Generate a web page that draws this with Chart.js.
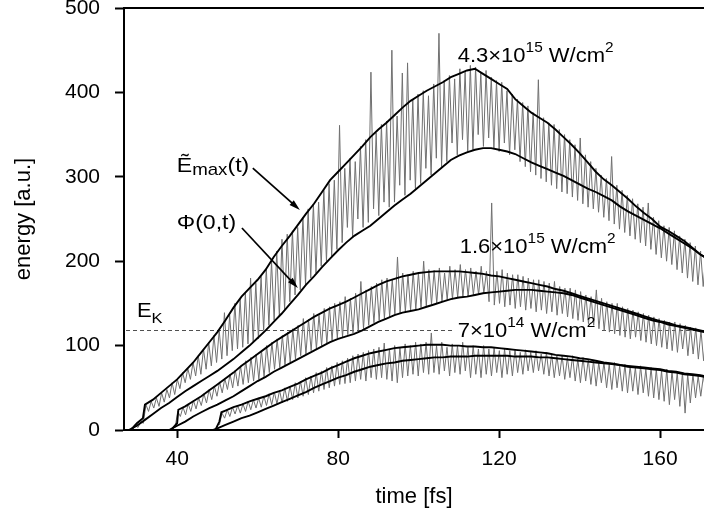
<!DOCTYPE html>
<html>
<head>
<meta charset="utf-8">
<script src="https://cdn.jsdelivr.net/npm/chart.js@4.4.1/dist/chart.umd.min.js"></script>
<style>
html,body{margin:0;padding:0;background:#fff;overflow:hidden;}
#wrap{width:704px;height:515px;}
canvas{display:block;}
</style>
</head>
<body>
<div id="wrap"><canvas id="chart" width="704" height="515"></canvas></div>
<script>
// ---------------- data ----------------
const xTicks = [40, 80, 120, 160];
const yTicks = [0, 100, 200, 300, 400, 500];
const eK = 118;

// 4.3e15 W/cm2 : upper (E~max) and lower (Phi(0,t)) curves
const u1T = [28.5,30,31.5,32,34,36,38,40,42,44,46,48,50,52,54,56,58,60,62,64,66,68,70,72,74,76,78,80,82,84,86,88,90,92,94,96,98,100,102,104,106,108,110,112,114,116,118,120,122,124,126,128,130,132,134,136,138,140,142,144,146,148,150,152,154,156,158,160,162,164,166,168,170,172];
const u1E = [0,8,14,30,36,44,52,60,70,80,92,104,116,130,145,158,168,178,190,205,218,230,243,256,268,282,296,306,316,326,336,347,356,364,373,382,390,396,402,407,412,418,422,426,428,422,416,410,404,392,384,376,370,364,356,347,338,328,317,306,297,290,282,274,265,257,250,241,236,230,224,216,208,202];
const l1T = [28,30,32,34,36,38,40,42,44,46,48,50,52,54,56,58,60,62,64,66,68,70,72,74,76,78,80,82,84,86,88,90,92,94,96,98,100,102,104,106,108,110,112,114,116,118,120,122,124,126,128,130,132,134,136,138,140,142,144,146,148,150,152,154,156,158,160,162,164,166,168,170,172];
const l1E = [0,5,12,19,26,32,39,46,52,58,64,70,77,84,92,100,109,118,128,138,149,160,172,182,193,203,213,222,230,236,242,250,258,266,273,280,288,296,304,312,320,325,329,332,334,334,332,330,327,322,317,313,309,305,301,296,291,286,282,277,272,265,259,254,249,244,239,233,227,221,215,208,202];

// 1.6e15 W/cm2
const u2T = [38.5,40,40.3,42,44,46,48,50,52,54,56,58,60,62,64,66,68,70,72,74,76,78,80,82,84,86,88,90,92,94,96,98,100,102,104,106,108,110,112,114,116,118,120,122,124,126,128,130,132,134,136,138,140,142,144,146,148,150,152,154,156,158,160,162,164,166,168,170,172];
const u2E = [0,8,24,28,34,40,47,54,61,68,76,83,90,97,104,110,116,122,128,134,139,144,148,152,157,162,167,172,176,179,182,184,186,187,188,188,188,188,187,186,185,183,182,180,178,176,174,172,170,167,165,162,159,156,153,150,147,144,141,138,135,132,129,127,124,122,120,118,116];
const l2T = [38,40,42,44,46,48,50,52,54,56,58,60,62,64,66,68,70,72,74,76,78,80,82,84,86,88,90,92,94,96,98,100,102,104,106,108,110,112,114,116,118,120,122,124,126,128,130,132,134,136,138,140,142,144,146,148,150,152,154,156,158,160,162,164,166,168,170,172];
const l2E = [0,5,10,16,21,26,30,35,40,46,52,58,63,69,74,79,84,89,94,99,104,108,111,114,118,123,128,132,136,139,141,143,146,149,152,155,157,158,160,162,163,164,165,166,166,166,165,164,163,162,160,157,154,151,148,145,142,139,136,133,130,128,125,123,121,119,117,115];

// 7e14 W/cm2
const u3T = [49.5,50.5,51,52,54,56,58,60,62,64,66,68,70,72,74,76,78,80,82,84,86,88,90,92,94,96,98,100,102,104,106,108,110,112,114,116,118,120,122,124,126,128,130,132,134,136,138,140,142,144,146,148,150,152,154,156,158,160,162,164,166,168,170,172];
const u3E = [0,10,21,23,27,30,34,37,40,44,47,51,55,60,64,68,73,77,81,85,88,91,93,95,97,98,99,100,101,101,101,100,100,99,99,98,98,97,96,95,94,93,92,91,89,88,87,85,84,82,80,79,77,76,75,74,73,72,70,69,67,66,65,63];
const l3T = [49,50,52,54,56,58,60,62,64,66,68,70,72,74,76,78,80,82,84,86,88,90,92,94,96,98,100,102,104,106,108,110,112,114,116,118,120,122,124,126,128,130,132,134,136,138,140,142,144,146,148,150,152,154,156,158,160,162,164,166,168,170,172];
const l3E = [0,2,6,10,14,17,21,25,29,33,37,41,45,50,54,58,62,65,69,72,75,77,79,80,82,83,84,85,86,86,87,87,87,88,88,88,88,88,87,87,87,86,86,85,84,83,82,81,80,79,78,77,75,74,73,72,71,69,68,66,65,64,62];

// noisy (gray) curves, sampled every 0.65 fs
const g1Start = 29.0, g2Start = 39.5, g3Start = 50.5, gStep = 0.65;
const g1E = [
  1,5,3,10,8,30,22,34,26,38,
  28,44,33,48,38,56,42,60,49,68,
  56,73,60,80,64,88,66,96,72,104,
  76,112,80,118,84,139,88,136,94,150,
  96,155,98,162,102,180,104,174,108,182,
  118,192,124,200,130,212,134,226,142,232,
  152,236,160,240,166,252,172,262,180,268,
  186,270,194,284,200,292,206,296,214,361,
  222,310,240,322,228,318,250,336,240,344,
  246,424,262,352,254,362,270,366,264,450,
  270,372,290,423,278,435,296,392,286,398,
  292,402,310,396,302,410,322,470,312,414,
  318,420,340,416,326,428,344,424,330,432,
  332,430,350,424,336,426,346,418,334,414,
  330,412,340,402,326,398,332,392,318,388,
  312,384,306,376,302,415,298,370,294,364,
  290,362,286,356,282,350,280,344,276,338,
  272,346,268,326,264,318,262,310,258,302,
  252,298,248,324,244,290,238,284,234,278,
  230,274,226,268,222,264,218,269,214,252,
  208,248,204,242,200,240,196,236,190,230,
  186,226,180,222,176,218,172,212,170,206];
const g2E = [
  3,22,16,27,18,31,22,35,25,38,
  29,43,32,48,36,52,40,57,44,61,
  48,66,50,71,52,76,54,82,56,86,
  58,90,60,94,63,100,68,104,72,108,
  74,112,77,116,80,120,84,124,88,132,
  90,131,94,138,96,136,100,144,103,146,
  106,150,109,152,110,158,113,156,115,162,
  118,176,120,166,124,170,127,174,130,178,
  132,180,134,178,137,205,138,186,140,184,
  142,188,143,186,145,200,147,190,149,189,
  150,192,152,186,154,194,155,190,157,196,
  158,190,158,192,160,188,160,194,162,188,
  152,269,148,188,150,190,146,186,148,184,
  144,184,146,182,142,180,144,178,140,178,
  142,176,138,174,140,176,136,170,138,168,
  134,168,132,166,130,164,128,160,126,158,
  124,166,120,156,118,152,116,150,114,150,
  112,146,110,144,108,142,110,140,106,138,
  104,136,102,134,100,132,98,130,96,128,
  94,128,92,126,96,124,88,122,90,121,
  84,118,82,116];
const g3E = [
  6,20,14,24,16,27,19,29,20,31,
  22,34,24,36,26,38,27,40,29,43,
  30,45,31,47,32,50,34,52,36,56,
  38,58,40,62,42,64,44,68,46,70,
  48,74,50,76,52,80,54,82,55,85,
  56,88,58,90,60,92,58,94,62,96,
  60,98,62,103,60,96,58,100,56,98,
  62,102,64,100,66,104,64,102,68,104,
  66,115,68,100,66,104,70,98,64,102,
  68,100,66,104,70,98,62,100,66,96,
  62,100,66,96,64,98,68,94,62,96,
  66,94,64,96,68,92,66,95,70,92,
  68,94,70,90,66,92,64,90,62,88,
  64,88,60,86,62,88,58,84,56,86,
  58,84,54,82,52,80,56,80,50,78,
  48,80,50,76,46,78,44,76,46,74,
  42,76,44,72,40,74,38,72,36,70,
  34,72,30,70,36,68,28,68,20,66,
  32,66,38,64,40,64,44];

// ---------------- chart ----------------
const FF = '"Liberation Sans", Arial, Helvetica, sans-serif';
const SX = 1.1; // horizontal stretch of annotation text
const pts = (xs, ys) => xs.map((x, i) => ({x: x, y: ys[i]}));
const sampled = (t0, ys) => ys.map((v, i) => ({x: t0 + i * gStep, y: v}));
const blackDs = d => ({data: d, borderColor: '#000', borderWidth: 1.9, pointRadius: 0, tension: 0, order: 0});
const grayDs = d => ({data: d, borderColor: '#707070', borderWidth: 1, pointRadius: 0, tension: 0, order: 1});

function drawRuns(ctx, px, py, parts) {
  ctx.save();
  ctx.translate(px, py);
  ctx.scale(SX, 1);
  ctx.fillStyle = '#000';
  ctx.textBaseline = 'alphabetic';
  ctx.textAlign = 'left';
  let cx = 0;
  for (const p of parts) {
    ctx.font = p.s + 'px ' + FF;
    ctx.fillText(p.t, cx, p.dy || 0);
    cx += ctx.measureText(p.t).width;
  }
  ctx.restore();
  return cx * SX;
}
function measureRuns(ctx, parts) {
  ctx.save();
  let w = 0;
  for (const p of parts) { ctx.font = p.s + 'px ' + FF; w += ctx.measureText(p.t).width; }
  ctx.restore();
  return w * SX;
}
function arrow(ctx, x1, y1, x2, y2) {
  const ang = Math.atan2(y2 - y1, x2 - x1);
  const L = 11, W = 3.2;
  ctx.save();
  ctx.strokeStyle = '#000'; ctx.fillStyle = '#000'; ctx.lineWidth = 1.7;
  ctx.beginPath(); ctx.moveTo(x1, y1);
  ctx.lineTo(x2 - Math.cos(ang) * L * 0.8, y2 - Math.sin(ang) * L * 0.8); ctx.stroke();
  ctx.beginPath();
  ctx.moveTo(x2, y2);
  ctx.lineTo(x2 - Math.cos(ang) * L + Math.sin(ang) * W, y2 - Math.sin(ang) * L - Math.cos(ang) * W);
  ctx.lineTo(x2 - Math.cos(ang) * L - Math.sin(ang) * W, y2 - Math.sin(ang) * L + Math.cos(ang) * W);
  ctx.closePath(); ctx.fill();
  ctx.restore();
}

const lab43 = [{t:'4.3\u00d710', s:20}, {t:'15', s:14, dy:-10}, {t:' W/cm', s:20}, {t:'2', s:14, dy:-10}];
const lab16 = [{t:'1.6\u00d710', s:20}, {t:'15', s:14, dy:-10}, {t:' W/cm', s:20}, {t:'2', s:14, dy:-10}];
const lab7  = [{t:'7\u00d710', s:20}, {t:'14', s:14, dy:-10}, {t:' W/cm', s:20}, {t:'2', s:14, dy:-10}];

const annot = {
  id: 'annot',
  beforeDatasetsDraw(chart) {
    const {ctx, chartArea: a, scales: {x, y}} = chart;
    ctx.save();
    const yk = Math.round(y.getPixelForValue(eK)) + 0.5;
    ctx.strokeStyle = '#505050'; ctx.lineWidth = 1; ctx.setLineDash([4, 3]);
    ctx.beginPath(); ctx.moveTo(a.left + 2, yk); ctx.lineTo(a.right, yk); ctx.stroke();
    ctx.setLineDash([]);
    // white box behind the 7e14 label (interrupts the dashed line)
    const lx = x.getPixelForValue(109.7), ly = y.getPixelForValue(110.2);
    const w = measureRuns(ctx, lab7);
    ctx.fillStyle = '#fff';
    ctx.fillRect(lx - 4, ly - 24, w + 8, 29);
    ctx.restore();
  },
  afterDatasetsDraw(chart) {
    const {ctx, chartArea: a, scales: {x, y}} = chart;
    ctx.save();
    // top frame line
    ctx.strokeStyle = '#000'; ctx.lineWidth = 2;
    ctx.beginPath(); ctx.moveTo(a.left, a.top); ctx.lineTo(a.right, a.top); ctx.stroke();
    const P = (vx, vy) => [x.getPixelForValue(vx), y.getPixelForValue(vy)];
    let p;
    p = P(109.7, 436); drawRuns(ctx, p[0], p[1], lab43);
    p = P(110.2, 209.7); drawRuns(ctx, p[0], p[1], lab16);
    p = P(109.7, 110.2); drawRuns(ctx, p[0], p[1], lab7);
    p = P(30.0, 134); drawRuns(ctx, p[0], p[1], [{t:'E', s:20}, {t:'K', s:15, dy:6}]);
    p = P(39.9, 305.7); drawRuns(ctx, p[0], p[1], [{t:'\u1ebc', s:21}, {t:'max', s:17, dy:3}, {t:'(t)', s:21}]);
    p = P(39.9, 238); drawRuns(ctx, p[0], p[1], [{t:'\u03a6(0,t)', s:21}]);
    const a1 = P(58.8, 310.4), b1 = P(70.5, 260.7);
    arrow(ctx, a1[0], a1[1], b1[0], b1[1]);
    const a2 = P(56.1, 239.3), b2 = P(70.0, 168.2);
    arrow(ctx, a2[0], a2[1], b2[0], b2[1]);
    ctx.restore();
  }
};

new Chart(document.getElementById('chart'), {
  type: 'line',
  data: {
    datasets: [
      blackDs(pts(u1T, u1E)), blackDs(pts(l1T, l1E)),
      blackDs(pts(u2T, u2E)), blackDs(pts(l2T, l2E)),
      blackDs(pts(u3T, u3E)), blackDs(pts(l3T, l3E)),
      grayDs(sampled(g1Start, g1E)), grayDs(sampled(g2Start, g2E)), grayDs(sampled(g3Start, g3E))
    ]
  },
  options: {
    responsive: false, animation: false, devicePixelRatio: 1, events: [],
    layout: {padding: {top: 8, right: 0, bottom: 0, left: 0}},
    plugins: {legend: {display: false}, tooltip: {enabled: false}},
    scales: {
      x: {
        type: 'linear', position: 'bottom', min: 26.8, max: 170.9,
        afterBuildTicks: s => { s.ticks = xTicks.map(v => ({value: v})); },
        afterFit: s => { s.height = 85; s.paddingLeft = 0; s.paddingRight = 0; },
        grid: {display: true, drawOnChartArea: false, drawTicks: true, tickLength: 8, tickWidth: 2, tickColor: '#000'},
        border: {display: true, color: '#000', width: 2},
        ticks: {color: '#000', font: {family: FF, size: 21}, padding: 9, maxRotation: 0, autoSkip: false},
        title: {display: true, text: 'time [fs]', color: '#000', font: {family: FF, size: 22}, padding: {top: 0, bottom: 5}}
      },
      y: {
        type: 'linear', position: 'left', min: 0, max: 500,
        afterBuildTicks: s => { s.ticks = yTicks.map(v => ({value: v})); },
        afterFit: s => { s.width = 124; s.paddingTop = 0; s.paddingBottom = 0; },
        grid: {display: true, drawOnChartArea: false, drawTicks: true, tickLength: 9, tickWidth: 2, tickColor: '#000'},
        border: {display: true, color: '#000', width: 2},
        ticks: {color: '#000', font: {family: FF, size: 21}, padding: 15, autoSkip: false},
        title: {display: true, text: 'energy [a.u.]', color: '#000', font: {family: FF, size: 22}, padding: {top: 11, bottom: 0}}
      }
    }
  },
  plugins: [annot]
});
</script>
</body>
</html>
